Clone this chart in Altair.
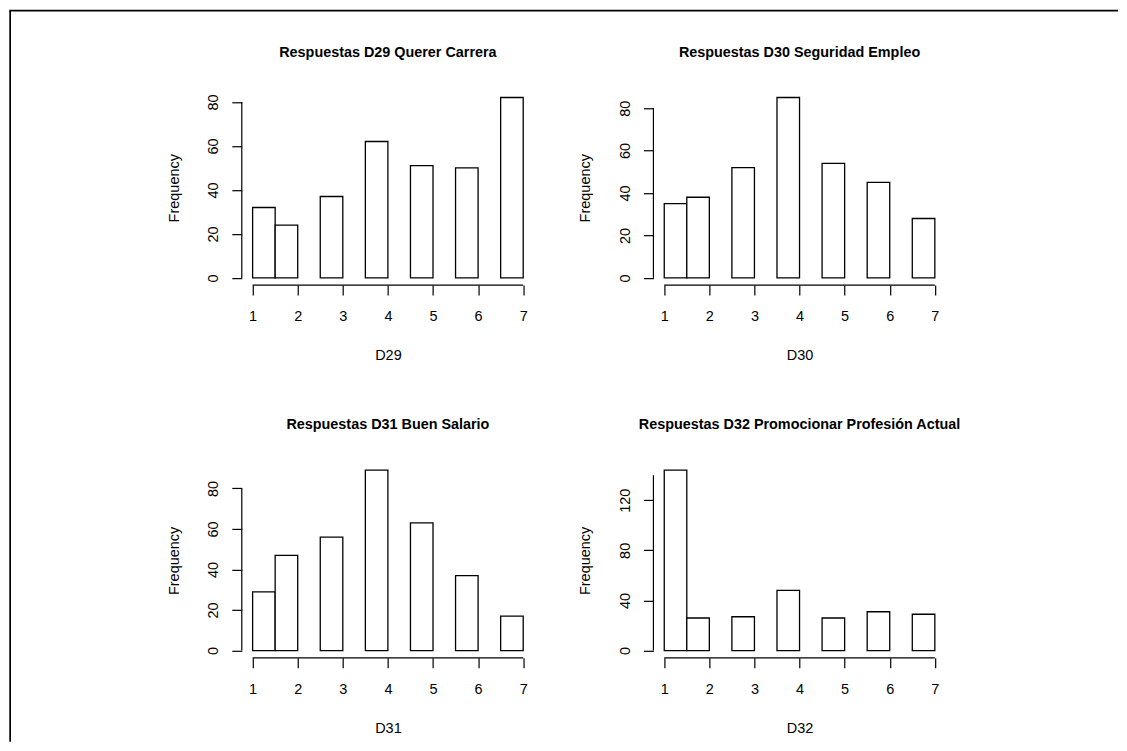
import altair as alt
import pandas as pd

# ---- data ----
bin_start = [1, 1.5, 2.5, 3.5, 4.5, 5.5, 6.5]
bin_end = [1.5, 2, 3, 4, 5, 6, 7]
x_ticks = [1, 2, 3, 4, 5, 6, 7]

d29 = [32, 24, 37, 62, 51, 50, 82]
d30 = [35, 38, 52, 85, 54, 45, 28]
d31 = [29, 47, 56, 89, 63, 37, 17]
d32 = [144, 26, 27, 48, 26, 31, 29]

titles = [
    "Respuestas D29 Querer Carrera",
    "Respuestas D30 Seguridad Empleo",
    "Respuestas D31 Buen Salario",
    "Respuestas D32 Promocionar Profesión Actual",
]
x_titles = ["D29", "D30", "D31", "D32"]
y_title = "Frequency"

y_ticks_a = [0, 20, 40, 60, 80]
y_labels_a = [0, 20, 40, 60, 80]
y_ticks_b = [0, 20, 40, 60, 80, 100, 120, 140]
y_labels_b = [0, 40, 80, 120]

# ---- styling ----
FONT = "Liberation Sans"
W, H = 292.5, 195
LW = 1.2
COL_GAP, ROW_GAP = 119, 178


def panel(counts, title, xlab, yticks, ylabels):
    m = max(counts)
    df = pd.DataFrame({"start": bin_start, "end": bin_end, "count": counts, "zero": [0] * len(counts)})
    xs = alt.Scale(domain=[0.76, 7.24], nice=False, zero=False)
    ys = alt.Scale(domain=[-0.04 * m, 1.04 * m], nice=False, zero=False)
    lab_expr = "indexof([" + ",".join(str(v) for v in ylabels) + "], datum.value) >= 0 ? datum.label : ''"
    xaxis = alt.Axis(
        values=x_ticks, domain=False, grid=False, tickSize=10, tickColor="black", tickWidth=LW,
        labelFont=FONT, labelFontSize=14.5, labelColor="black", labelBaseline="alphabetic",
        labelAlign="center", labelPadding=25.7, labelAngle=0, labelFlush=False, labelOverlap=False,
        title=xlab, titleFont=FONT, titleFontSize=14.5, titleFontWeight="normal", titleColor="black",
        titleX=W / 2, titleY=74.8, titleBaseline="alphabetic", titleAlign="center",
    )
    yaxis = alt.Axis(
        values=yticks, domain=False, grid=False, tickSize=10, tickColor="black", tickWidth=LW,
        labelFont=FONT, labelFontSize=14.5, labelColor="black", labelBaseline="alphabetic",
        labelAlign="center", labelPadding=14.2, labelAngle=270, labelFlush=False, labelOverlap=False,
        labelExpr=lab_expr,
        title=y_title, titleFont=FONT, titleFontSize=14.5, titleFontWeight="normal", titleColor="black",
        titleAngle=270, titleX=-63.7, titleY=H / 2, titleBaseline="alphabetic", titleAlign="center",
    )
    bars = alt.Chart(df).mark_rect(fill="white", stroke="black", strokeWidth=1.3).encode(
        x=alt.X("start:Q", scale=xs, axis=xaxis),
        x2="end",
        y=alt.Y("count:Q", scale=ys, axis=yaxis),
        y2="zero",
    )
    one = pd.DataFrame({"k": [0]})
    yline = alt.Chart(one).mark_rule(color="black", strokeWidth=LW).encode(
        x=alt.value(0), y=alt.datum(yticks[0]), y2=alt.datum(yticks[-1])
    )
    xline = alt.Chart(one).mark_rule(color="black", strokeWidth=LW).encode(
        y=alt.value(H), x=alt.datum(x_ticks[0]), x2=alt.datum(x_ticks[-1])
    )
    ttl = alt.Chart(pd.DataFrame({"t": [title]})).mark_text(
        baseline="alphabetic", align="center", font=FONT, fontSize=14.4, fontWeight="bold",
        color="black", clip=False,
    ).encode(text="t:N", x=alt.value(W / 2), y=alt.value(-33.5))
    return alt.layer(bars, yline, xline, ttl).properties(width=W, height=H)


p1 = panel(d29, titles[0], x_titles[0], y_ticks_a, y_labels_a)
p2 = panel(d30, titles[1], x_titles[1], y_ticks_a, y_labels_a)
p3 = panel(d31, titles[2], x_titles[2], y_ticks_a, y_labels_a)
p4 = panel(d32, titles[3], x_titles[3], y_ticks_b, y_labels_b)

# figure frame (top and left edge lines of the picture), placed in a tiny third-row cell
DECO_Y = 2 * H + 2 * ROW_GAP  # offset of the deco cell from the first panel's top
one = pd.DataFrame({"k": [0]})
left_edge = alt.Chart(one).mark_rule(color="black", strokeWidth=1.7, clip=False).encode(
    x=alt.value(-231.85), y=alt.value(-79.7 - DECO_Y), y2=alt.value(652 - DECO_Y)
)
top_edge = alt.Chart(one).mark_rule(color="black", strokeWidth=1.7, clip=False).encode(
    x=alt.value(-232.7), x2=alt.value(877), y=alt.value(-79.7 - DECO_Y)
)
deco = alt.layer(left_edge, top_edge).properties(width=1, height=1)

chart = alt.concat(
    p1, p2, p3, p4, deco, columns=2,
    spacing={"row": ROW_GAP, "column": COL_GAP}, bounds="flush",
).properties(
    padding={"left": 0, "top": 1, "right": 0, "bottom": 0},
    background="white",
).configure_view(stroke=None)

chart.save("out.html", embed_options={"renderer": "svg", "actions": False})
